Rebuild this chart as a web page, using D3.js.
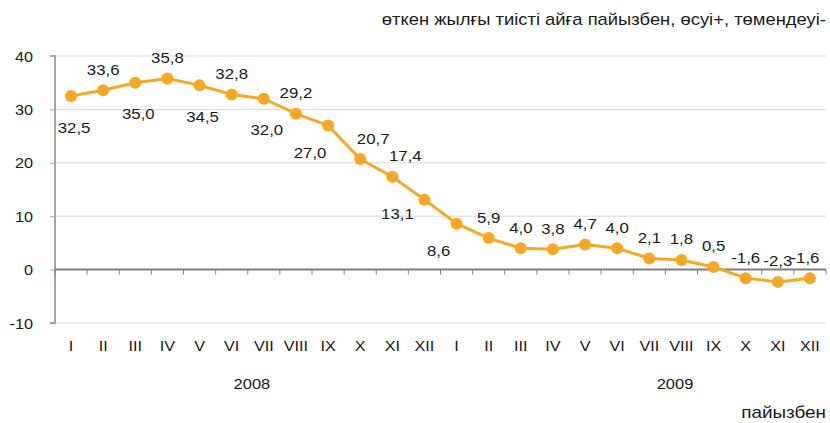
<!DOCTYPE html>
<html><head><meta charset="utf-8">
<script src="https://cdn.jsdelivr.net/npm/d3@7"></script>
<style>
body{margin:0;background:#fff;}
text{font-family:"Liberation Sans",Arial,sans-serif;fill:#1a1a1a;}
</style></head>
<body><svg id="c" width="830" height="423"></svg>
<script>
const months = ["I","II","III","IV","V","VI","VII","VIII","IX","X","XI","XII",
                "I","II","III","IV","V","VI","VII","VIII","IX","X","XI","XII"];
const values = [32.5,33.6,35.0,35.8,34.5,32.8,32.0,29.2,27.0,20.7,17.4,13.1,
                8.6,5.9,4.0,3.8,4.7,4.0,2.1,1.8,0.5,-1.6,-2.3,-1.6];
const labelPlace = ["b","a","b","a","b","a","b","a","bl","ar","ar","l",
                    "bl","a","a","a","a","a","a","a","a","a","a","al"];
const years = ["2008","2009"];
const yearAnchor = [6.13, 19.3];
const yTicks = [-10,0,10,20,30,40];
const title = "өткен жылғы тиісті айға пайызбен, өсуі+, төмендеуі-";
const unit = "пайызбен";

const svg = d3.select("#c");
const L = 55, R = 826, T = 56, B = 323;
const x = d3.scaleBand().domain(d3.range(months.length)).range([L,R]);
const y = d3.scaleLinear().domain([-10,40]).range([B,T]);
const cx = i => x(i) + x.bandwidth()/2;

// stretched text helper
function stext(g, px, py, str, size, sx, anchor){
  return g.append("text")
    .attr("transform",`translate(${px},${py}) scale(${sx},1)`)
    .attr("text-anchor",anchor||"middle").attr("font-size",size).text(str);
}

// gridlines
svg.append("g").selectAll("line").data(yTicks.filter(d=>d!==0)).join("line")
  .attr("x1",L).attr("x2",R).attr("y1",d=>y(d)).attr("y2",d=>y(d))
  .attr("stroke","#d9d9d9").attr("stroke-width",1);

// y axis
const ya = svg.append("g").attr("transform",`translate(${L},0)`)
  .call(d3.axisLeft(y).tickValues(yTicks).tickSize(5).tickPadding(0).tickFormat(d=>String(d)));
ya.select(".domain").attr("stroke","#a6a6a6").attr("stroke-width",2).attr("d",`M-5,${T}H0V${B}H-5`);
ya.selectAll(".tick line").attr("stroke","#a6a6a6");
ya.selectAll(".tick text").attr("x",null).attr("dy","0.35em")
  .attr("transform","translate(-22,0) scale(1.12,1)")
  .attr("font-size",14.5).attr("fill","#1a1a1a").attr("font-family","Liberation Sans, Arial, sans-serif");

// zero axis with boundary ticks
const za = svg.append("g").attr("transform",`translate(0,${y(0)})`);
za.append("line").attr("x1",L).attr("x2",R).attr("stroke","#7f7f7f").attr("stroke-width",2);
za.selectAll("line.t").data(d3.range(months.length+1)).join("line").attr("class","t")
  .attr("x1",i=> i<months.length ? x(i) : R).attr("x2",i=> i<months.length ? x(i) : R)
  .attr("y1",0).attr("y2",5).attr("stroke","#7f7f7f").attr("stroke-width",1);

// month labels
const mg = svg.append("g");
months.forEach((m,i)=> stext(mg, cx(i), 351, m, 14.5, 1.12));

// years
const yg = svg.append("g");
years.forEach((yr,i)=> stext(yg, x(0)+x.step()*yearAnchor[i], 389, yr, 15, 1.1));

// line
const color = "#F7A823";
svg.append("path").datum(values)
  .attr("d",d3.line().x((d,i)=>cx(i)).y(d=>y(d)))
  .attr("fill","none").attr("stroke",color).attr("stroke-width",3);
svg.append("g").selectAll("circle").data(values).join("circle")
  .attr("cx",(d,i)=>cx(i)).attr("cy",d=>y(d)).attr("r",6).attr("fill",color);

// data labels
const fmt = v => d3.format(".1f")(v).replace(".",",").replace("\u2212","-");
const off = {
  a:[0,-21], b:[3,31], bl:[-18,27], ar:[13,-21], l:[-27,14], al:[-5,-21]
};
const lg = svg.append("g");
values.forEach((v,i)=>{
  const o = off[labelPlace[i]];
  stext(lg, cx(i)+o[0], y(v)+o[1]+5.5, fmt(v), 15, 1.12);
});

// title & unit
stext(svg, 826, 25, title, 16, 1.15, "end");
stext(svg, 826, 418, unit, 16, 1.18, "end");
</script></body></html>
